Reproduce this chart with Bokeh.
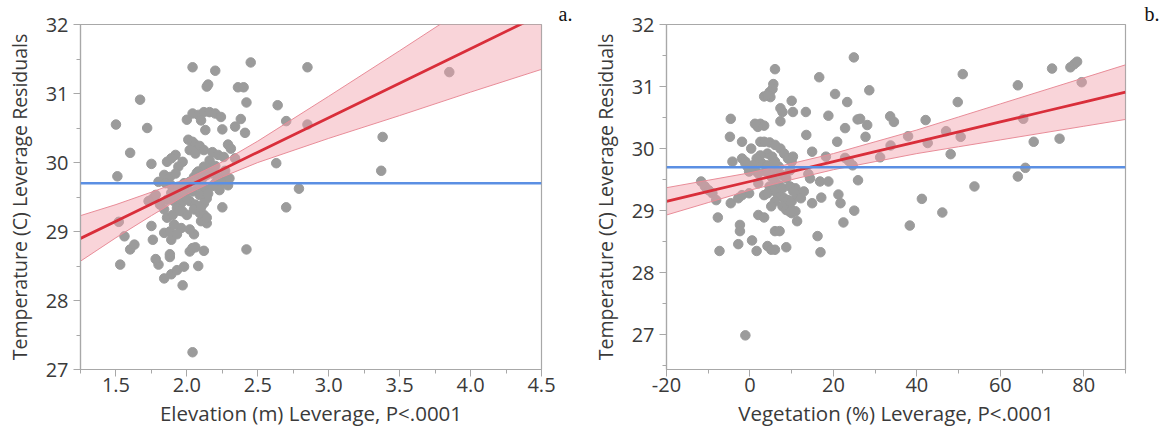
from bokeh.plotting import figure
from bokeh.layouts import row
from bokeh.models import (ColumnDataSource, Span, SingleIntervalTicker,
                          NumeralTickFormatter, CustomJSTickFormatter, Range1d)
from bokeh.embed import file_html
from bokeh.resources import INLINE

# ---------------- Panel a: Elevation leverage ----------------
elev_x = [2.04, 2.20, 2.45, 2.85, 3.85, 1.67, 2.14, 2.15, 2.36, 2.40, 2.42, 2.64,
          1.50, 1.72, 2.70, 2.85, 3.38, 3.37, 1.60, 1.75, 2.63, 1.51, 2.79, 2.70,
          2.42, 1.52, 1.56, 1.60, 1.63, 1.53, 2.04, 1.97, 1.84, 1.89, 1.93, 1.98,
          2.08, 1.80, 1.78, 1.88, 1.88, 2.02, 2.04, 2.06, 2.12, 1.76, 1.89, 1.84,
          1.88, 1.93, 2.05, 1.75, 1.96, 2.02, 1.86, 1.90, 2.10, 2.14, 2.25, 1.76,
          1.78, 1.73,
          2.00, 2.04, 2.08, 2.12, 2.16, 2.20, 2.24, 2.10, 2.13, 2.25, 2.34, 2.38,
          2.41, 2.29, 2.31, 2.34, 2.01, 2.04, 2.06, 2.09, 2.12, 2.02, 2.06, 1.92,
          1.89, 1.86, 1.97, 1.94, 2.18, 2.22, 2.26, 2.16, 2.12, 2.14, 2.18, 2.22,
          2.26, 2.30, 2.20, 2.24, 2.29, 2.08, 2.05, 2.11, 2.02, 2.08, 2.12, 2.00,
          2.04, 1.84, 1.88, 1.92, 1.80, 1.85, 1.89, 1.94, 1.98, 1.89, 1.93, 1.97,
          1.86, 1.91, 1.96, 2.09, 2.14, 2.12, 2.02, 2.06, 1.93, 1.97, 2.00, 2.05,
          2.09, 1.81, 1.84, 2.12, 2.14, 2.17, 2.20, 2.23, 2.15, 1.99, 2.07, 2.27,
          1.95, 2.10, 2.18, 1.91]
elev_y = [31.38, 31.33, 31.45, 31.38, 31.31, 30.91, 31.10, 31.13, 31.09, 31.09, 30.87, 30.83,
          30.55, 30.50, 30.60, 30.55, 30.37, 29.88, 30.14, 29.98, 29.99, 29.80, 29.62, 29.35,
          28.74, 29.14, 28.93, 28.74, 28.81, 28.52, 27.25, 28.22, 28.32, 28.38, 28.44, 28.49,
          28.50, 28.52, 28.60, 28.63, 28.67, 28.71, 28.76, 28.77, 28.72, 28.88, 28.88, 28.98,
          29.00, 28.96, 28.96, 29.08, 29.05, 29.03, 29.20, 29.24, 29.15, 29.12, 29.35, 29.48,
          29.53, 29.44,
          30.62, 30.71, 30.69, 30.73, 30.73, 30.71, 30.66, 30.61, 30.47, 30.48, 30.52, 30.63,
          30.43, 30.26, 30.20, 30.06, 30.33, 30.30, 30.26, 30.24, 30.18, 30.18, 30.13, 30.11,
          30.06, 30.01, 30.01, 29.94, 30.15, 30.11, 30.08, 30.03, 29.94, 29.82, 29.84, 29.79,
          29.75, 29.77, 29.70, 29.70, 29.67, 29.87, 29.79, 29.77, 29.72, 29.67, 29.63, 29.63,
          29.58, 29.82, 29.79, 29.84, 29.72, 29.70, 29.67, 29.65, 29.70, 29.56, 29.53, 29.58,
          29.46, 29.44, 29.41, 29.53, 29.48, 29.41, 29.44, 29.39, 29.34, 29.29, 29.24, 29.32,
          29.27, 29.39, 29.32, 29.24, 29.20, 29.90, 29.95, 29.60, 29.55, 29.50, 29.85, 29.88,
          29.30, 29.35, 29.66, 29.10]

elev_fit_x = [1.25, 1.5, 1.75, 2.0, 2.25, 2.5, 3.0, 3.5, 4.0, 4.5]
elev_fit_y = [28.90, 29.15, 29.40, 29.65, 29.90, 30.15, 30.65, 31.15, 31.65, 32.15]
elev_lo = [28.57, 28.91, 29.23, 29.54, 29.79, 30.00, 30.35, 30.68, 31.02, 31.35]
elev_hi = [29.23, 29.39, 29.57, 29.76, 30.01, 30.31, 30.96, 31.62, 32.29, 32.95]
elev_mean = 29.7

# ---------------- Panel b: Vegetation leverage ----------------
veg_x = [72.4, 76.8, 77.7, 78.4, 79.5, 64.2, 65.5, 68.0, 74.2, 64.2, 66.0, 51.0,
         49.8, 50.5, 48.1, 47.0, 53.8, 46.1, 41.2, 38.3, 42.1, 42.6, 37.9, 33.6,
         34.5, 33.7, 31.2, 28.6, 27.7, 28.1, 25.8, 26.4, 25.9, 25.0, 24.9, 23.3,
         22.8, 20.4, 20.9, 22.8, 23.7, 24.6, 21.2, 21.7, 22.4, 18.8, 16.6, 18.2,
         16.8, 18.8, 17.1, 16.2, 16.9, 14.9, 14.0, 14.4, 14.9, 13.4, 13.5, 12.9,
         10.0, 10.3, 7.3, 7.8, 7.3, 6.0, 5.6, 5.4, 4.7, 4.9, 3.4, 4.2,
         2.5, 3.4, 1.9, 1.2, 0.3, -4.6, -4.8, -1.9, -4.2, -1.9, -1.1, -0.6,
         -0.2, 2.0, -0.2, -11.7, -10.8, -9.9, -9.0, -8.1, -4.6, -2.8, -1.9, -7.7,
         -7.3, -2.4, -2.4, -2.8, 0.5, 1.6, -1.1, 2.0, 3.4, 4.2, 5.1, 6.0,
         6.0, 7.1, 8.7, 10.0, 10.9, 11.3, 9.6, 8.7,
         2.5, 3.4, 4.7, 6.0, 7.3, 4.2, 5.3, 8.2, 9.1, 10.0, 10.3, 9.6,
         2.9, 4.2, 5.6, 3.8, 6.5, 7.8, 8.7, 5.1, 6.0, 6.9, 7.8, 4.7,
         5.6, 6.5, 3.4, 4.2, 7.3, 8.2, 9.1, 10.0, 6.0, 5.1, 7.8, 8.7,
         9.6, 10.9, 11.3, 12.2, 9.6, 10.4, 6.9, 6.0, 2.5, 1.6, 0.7, 1.2,
         2.0, -1.1]
veg_y = [31.29, 31.31, 31.36, 31.40, 31.07, 31.02, 30.48, 30.11, 30.16, 29.55, 29.69, 31.20,
         30.75, 30.19, 29.91, 30.28, 29.39, 28.97, 29.19, 28.76, 30.46, 30.09, 30.20, 30.52,
         30.43, 30.05, 29.86, 30.94, 30.19, 30.38, 30.47, 30.48, 29.49, 29.00, 31.47, 30.75,
         30.33, 30.88, 30.11, 29.85, 29.80, 29.73, 29.26, 29.12, 28.81, 30.53, 31.15, 29.87,
         29.47, 29.47, 29.21, 28.59, 28.33, 29.95, 29.59, 29.52, 29.12, 30.59, 30.22, 29.31,
         30.77, 30.59, 30.65, 30.59, 30.44, 31.28, 31.04, 30.96, 30.91, 30.83, 30.84, 30.86,
         30.40, 30.37, 30.35, 30.40, 30.00, 30.48, 30.19, 30.11, 29.79, 29.84, 29.79, 29.71,
         29.63, 29.44, 29.28, 29.47, 29.39, 29.33, 29.28, 29.17, 29.12, 29.20, 29.25, 28.89,
         28.35, 28.77, 28.67, 28.46, 28.52, 28.35, 26.99, 28.93, 28.89, 28.43, 28.37, 28.37,
         28.67, 28.67, 28.41, 28.96, 28.99, 28.83, 29.04, 29.07,
         30.11, 30.11, 30.10, 30.06, 30.00, 29.92, 29.87, 29.92, 29.84, 29.79, 29.87, 29.65,
         29.76, 29.73, 29.68, 29.63, 29.63, 29.57, 29.52, 29.55, 29.47, 29.41, 29.36, 29.39,
         29.33, 29.28, 29.25, 29.28, 29.23, 29.20, 29.17, 29.15, 29.15, 29.07, 29.07, 29.01,
         28.98, 29.36, 29.25, 29.20, 29.39, 29.31, 29.71, 29.79, 29.89, 29.84, 29.73, 29.65,
         29.60, 29.76]

veg_fit_x = [-20, -10, 0, 10, 20, 30, 40, 50, 60, 70, 80, 90]
veg_fit_y = [29.15, 29.31, 29.47, 29.63, 29.79, 29.95, 30.11, 30.27, 30.43, 30.59, 30.75, 30.91]
veg_lo = [28.93, 29.13, 29.33, 29.50, 29.66, 29.79, 29.92, 30.03, 30.14, 30.25, 30.36, 30.47]
veg_hi = [29.37, 29.49, 29.61, 29.76, 29.92, 30.11, 30.30, 30.51, 30.72, 30.93, 31.14, 31.35]
veg_mean = 29.7

FONT = "Open Sans"
TXT = "#3a3a3a"
AX = "#a8a8a8"


def make_panel(xs, ys, fx, fy, lo, hi, mean, xr, yr, xtick, xfmt, xlabel, letter,
               width, bl, br, letter_offset):
    p = figure(width=width, height=433, x_range=Range1d(*xr), y_range=Range1d(*yr),
               output_backend="svg", toolbar_location=None, title=letter,
               min_border_left=bl, min_border_right=br, min_border_top=21,
               min_border_bottom=64)
    p.grid.visible = False
    p.outline_line_color = AX
    p.outline_line_width = 1.2
    p.background_fill_color = "white"
    p.border_fill_color = "white"

    # panel letter placed to the right of the frame top
    p.title.align = "left"
    p.title.offset = letter_offset
    p.title.standoff = 0
    p.title.text_font = "Liberation Serif"
    p.title.text_font_size = "20px"
    p.title.text_font_style = "normal"
    p.title.text_color = "#111111"

    p.scatter(xs, ys, size=9.5, fill_color="#9b9b9b", line_color="#9b9b9b")
    band = ColumnDataSource(dict(x=fx, lo=lo, hi=hi))
    p.varea(x="x", y1="lo", y2="hi", source=band, fill_color="#f2a0aa", fill_alpha=0.45)
    p.line(fx, lo, line_color="#e88c98", line_width=1)
    p.line(fx, hi, line_color="#e88c98", line_width=1)
    p.add_layout(Span(location=mean, dimension="width", line_color="#5b8fe3",
                      line_width=2.5))
    p.line(fx, fy, line_color="#d92e3a", line_width=2.8)

    p.xaxis.ticker = SingleIntervalTicker(interval=xtick, num_minor_ticks=2)
    p.yaxis.ticker = SingleIntervalTicker(interval=1, num_minor_ticks=2)
    p.xaxis.formatter = NumeralTickFormatter(format=xfmt) if xfmt else \
        CustomJSTickFormatter(code="return tick.toFixed(0);")
    for ax in (p.xaxis[0], p.yaxis[0]):
        ax.axis_line_color = AX
        ax.axis_line_width = 1.2
        ax.major_tick_line_color = AX
        ax.minor_tick_line_color = AX
        ax.major_tick_in = 0
        ax.minor_tick_in = 0
        ax.major_tick_out = 7
        ax.minor_tick_out = 4
        ax.major_label_text_font = FONT
        ax.major_label_text_font_size = "20px"
        ax.major_label_text_color = TXT
        ax.axis_label_text_font = FONT
        ax.axis_label_text_font_style = "normal"
        ax.axis_label_text_color = TXT
    p.yaxis.axis_label_text_font_size = "19.5px"
    p.xaxis.axis_label_text_font_size = "20.5px"
    p.xaxis.axis_label = xlabel
    p.yaxis.axis_label = "Temperature (C) Leverage Residuals"
    p.xaxis.major_label_standoff = 1
    p.xaxis.axis_label_standoff = 4
    p.yaxis.major_label_standoff = 5
    p.yaxis.axis_label_standoff = 10
    return p


p1 = make_panel(elev_x, elev_y, elev_fit_x, elev_fit_y, elev_lo, elev_hi, elev_mean,
                (1.25, 4.5), (27, 32), 0.5, "0.0", "Elevation (m) Leverage, P<.0001",
                "a.", 588, 80, 47, 478)
p2 = make_panel(veg_x, veg_y, veg_fit_x, veg_fit_y, veg_lo, veg_hi, veg_mean,
                (-20, 90), (26.44, 32), 20, None, "Vegetation (%) Leverage, P<.0001",
                "b.", 573, 75, 36, 478)

layout = row(p1, p2)
open("out.html", "w").write(file_html(layout, INLINE))
